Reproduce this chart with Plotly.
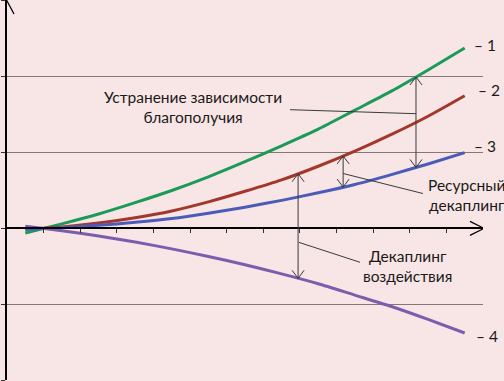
import plotly.graph_objects as go
import numpy as np

# ---- data ----
idx = list(range(13))
green = [-0.06, 0.06, 0.19, 0.34, 0.50, 0.68, 0.88, 1.09, 1.31, 1.56, 1.81, 2.09, 2.38]
red = [-0.01, 0.02, 0.07, 0.14, 0.23, 0.35, 0.49, 0.64, 0.82, 1.02, 1.24, 1.48, 1.75]
blue = [-0.01, 0.01, 0.04, 0.08, 0.13, 0.20, 0.28, 0.37, 0.47, 0.58, 0.71, 0.85, 1.00]
purple = [0.03, -0.03, -0.10, -0.18, -0.27, -0.37, -0.48, -0.60, -0.73, -0.88, -1.03, -1.20, -1.38]
series_labels = ["– 1", "– 2", "– 3", "– 4"]
x_ticks = [i + 0.5 for i in range(12)]
y_ticks = [-2, -1, 0, 1, 2, 3]

colors = ["#1B9A5A", "#A2382B", "#4A5CB8", "#7B5DAE"]
series = [green, red, blue, purple]

W, H = 504, 381
ML, MR, MT, MB = 7, 21, 0, 1
XR = (-0.5, 12.5)
YR = (-2, 3.013)
PX = (XR[1] - XR[0]) / (W - ML - MR)
PY = (YR[1] - YR[0]) / (H - MT - MB)

FONT = "Lato"
TXT = "#1a1a1a"
LINE = "#3a3a3a"

fig = go.Figure()
for s, c in zip(series, colors):
    fig.add_trace(go.Scatter(x=idx, y=s, mode="lines",
                             line=dict(color=c, width=3, shape="spline", smoothing=0.6),
                             hoverinfo="skip", showlegend=False))

shapes = []


def seg(x0, y0, x1, y1, color=LINE, width=1):
    shapes.append(dict(type="line", xref="x", yref="y", x0=x0, y0=y0, x1=x1, y1=y1,
                       line=dict(color=color, width=width), layer="above"))


def chevron(xt, yt, dxp, dyp, length, half, color=LINE, width=1):
    n = (dxp ** 2 + dyp ** 2) ** 0.5
    ux, uy = dxp / n, dyp / n
    px, py = -uy, ux
    bx, by = -ux * length, -uy * length
    a = (xt + (bx + px * half) * PX, yt + (by + py * half) * PY)
    b = (xt + (bx - px * half) * PX, yt + (by - py * half) * PY)
    path = f"M {a[0]},{a[1]} L {xt},{yt} L {b[0]},{b[1]}"
    shapes.append(dict(type="path", xref="x", yref="y", path=path,
                       line=dict(color=color, width=width), layer="above"))


# axis arrows
chevron(XR[1] + 1 * PX, 0, 1, 0, 14, 7, color="black", width=1.3)
chevron(XR[0], YR[1] - 1 * PY, 0, 1, 13, 7, color="black", width=1.3)

# vertical double arrows, endpoints taken from the curves
arrow_x = [10.67, 8.68, 7.45]
arrow_pairs = [(green, blue), (red, blue), (red, purple)]
for ax_, (top, bot) in zip(arrow_x, arrow_pairs):
    yt = float(np.interp(ax_, idx, top))
    yb = float(np.interp(ax_, idx, bot))
    seg(ax_, yt, ax_, yb)
    chevron(ax_, yt, 0, 1, 8, 6)
    chevron(ax_, yb, 0, -1, 8, 6)

# leader lines
seg(7.23, 1.566, 10.67, 1.513)
seg(8.68, 0.724, 10.86, 0.46)
seg(7.47, -0.184, 9.14, -0.447)

annotations = [
    dict(x=4.58, y=1.605, text="Устранение зависимости<br>благополучия"),
    dict(x=12.04, y=0.447, text="Ресурсный<br>декаплинг"),
    dict(x=10.45, y=-0.50, text="Декаплинг<br>воздействия"),
]
anns = []
for a in annotations:
    anns.append(dict(x=a["x"], y=a["y"], xref="x", yref="y", text=a["text"], showarrow=False,
                     font=dict(family=FONT, size=15.5, color=TXT), align="center",
                     xanchor="center", yanchor="middle"))

label_dy = [0.04, 0.07, 0.09, -0.04]
label_dx = [0.0, 0.11, 0.0, 0.06]
for s, lab, dy, dx in zip(series, series_labels, label_dy, label_dx):
    anns.append(dict(x=idx[-1] + 0.2 + dx, y=s[-1] + dy, xref="x", yref="y", text=lab,
                     showarrow=False, xanchor="left", yanchor="middle",
                     font=dict(family=FONT, size=15.5, color=TXT)))

fig.update_layout(
    width=W, height=H,
    margin=dict(l=ML, r=MR, t=MT, b=MB, autoexpand=False),
    paper_bgcolor="#F8E5E5", plot_bgcolor="#F8E5E5",
    shapes=shapes, annotations=anns, showlegend=False,
    xaxis=dict(range=list(XR), showgrid=False, zeroline=False, showline=True,
               linecolor="black", linewidth=1.5, anchor="free",
               position=(0 - YR[0]) / (YR[1] - YR[0]),
               ticks="outside", ticklen=4, tickwidth=1, tickcolor="#333333",
               tickvals=x_ticks, showticklabels=False, fixedrange=True),
    yaxis=dict(range=list(YR), showgrid=True, gridcolor="#857777", gridwidth=1,
               zeroline=False, showline=True, linecolor="black", linewidth=1.5,
               ticks="outside", ticklen=4, tickwidth=1, tickcolor="#333333",
               tickvals=y_ticks, showticklabels=False, fixedrange=True),
)

fig.write_html("out.html", config={"displayModeBar": False},
               post_script="document.body.style.margin='0px';document.body.style.overflow='hidden';")
